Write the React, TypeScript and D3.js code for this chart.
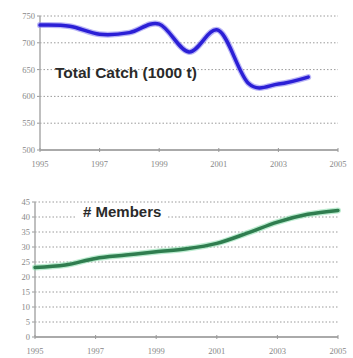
import React from "react";
import * as d3 from "d3";

const catchYears = [1995, 1996, 1997, 1998, 1999, 2000, 2001, 2002, 2003, 2004];
const catchValues = [733, 731, 716, 719, 735, 683, 723, 624, 623, 636];
const memberYears = [1995, 1996, 1997, 1998, 1999, 2000, 2001, 2002, 2003, 2004, 2005];
const memberValues = [23.2, 24, 26.2, 27.3, 28.4, 29.4, 31.2, 34.6, 38.3, 40.9, 42.2];
const xTicks = [1995, 1997, 1999, 2001, 2003, 2005];
const catchTicks = [500, 550, 600, 650, 700, 750];
const memberTicks = [0, 5, 10, 15, 20, 25, 30, 35, 40, 45];

const W = 353;
const H = 358;

function Panel(props: {
  x0: number; x1: number; yTop: number; yBot: number;
  domain: [number, number]; ticks: number[]; years: number[]; values: number[];
  color: string; glow: string; label: string; labelX: number; labelY: number; labelSize: number; labelBox: boolean;
}) {
  const { x0, x1, yTop, yBot, domain, ticks, years, values, color, glow, label, labelX, labelY, labelSize, labelBox } = props;
  const x = d3.scaleLinear().domain([1995, 2005]).range([x0, x1]);
  const y = d3.scaleLinear().domain(domain).range([yBot, yTop]);
  const line = d3.line<number>().x((_, i) => x(years[i])).y((d) => y(d)).curve(d3.curveCardinal.tension(0));
  const path = line(values) || "";
  return (
    <g>
      {ticks.filter((t) => t !== domain[0]).map((t) => (
        <line key={t} x1={x0} x2={x1} y1={y(t)} y2={y(t)} stroke="#9a9a9a" strokeWidth={1} strokeDasharray="1.5,2" />
      ))}
      {ticks.map((t) => (
        <g key={"l" + t}>
          <line x1={x0 - 3} x2={x0} y1={y(t)} y2={y(t)} stroke="#999" />
          <text x={x0 - 5} y={y(t) + 3} fontSize={8.5} fill="#888" textAnchor="end" fontFamily="Liberation Serif">{t}</text>
        </g>
      ))}
      <line x1={x0} x2={x0} y1={yTop} y2={yBot} stroke="#aaa" strokeWidth={1.5} />
      <line x1={x0} x2={x1} y1={yBot} y2={yBot} stroke="#aaa" strokeWidth={2} />
      {xTicks.map((t) => (
        <g key={"x" + t}>
          <line x1={x(t)} x2={x(t)} y1={yBot - 2} y2={yBot + 2} stroke="#999" />
          <text x={x(t)} y={yBot + 17} fontSize={8.5} fill="#888" textAnchor="middle" fontFamily="Liberation Serif">{t}</text>
        </g>
      ))}
      <path d={path} fill="none" stroke={glow} strokeWidth={6} strokeLinecap="round" opacity={0.6} />
      <path d={path} fill="none" stroke={color} strokeWidth={3.5} strokeLinecap="round" />
      {labelBox && <rect x={labelX - 6} y={labelY - 14} width={90} height={20} fill="white" />}
      <text x={labelX} y={labelY} fontSize={labelSize} fontWeight="bold" fill="#2a2a2a" fontFamily="Liberation Sans, Arial">{label}</text>
    </g>
  );
}

export default function App() {
  return (
    <svg width={W} height={H} style={{ position: "absolute", left: 0, top: 0, background: "white" }}>
      <rect width={W} height={H} fill="white" />
      <Panel x0={40} x1={338} yTop={16} yBot={150} domain={[500, 750]} ticks={catchTicks}
        years={catchYears} values={catchValues} color="#2b1fd6" glow="#8c86f0"
        label="Total Catch (1000 t)" labelX={55} labelY={78} labelSize={15.5} labelBox={false} />
      <Panel x0={35} x1={338} yTop={202} yBot={337} domain={[0, 45]} ticks={memberTicks}
        years={memberYears} values={memberValues} color="#2f7d4f" glow="#8fe0b0"
        label="# Members" labelX={83} labelY={217} labelSize={15} labelBox={true} />
    </svg>
  );
}
